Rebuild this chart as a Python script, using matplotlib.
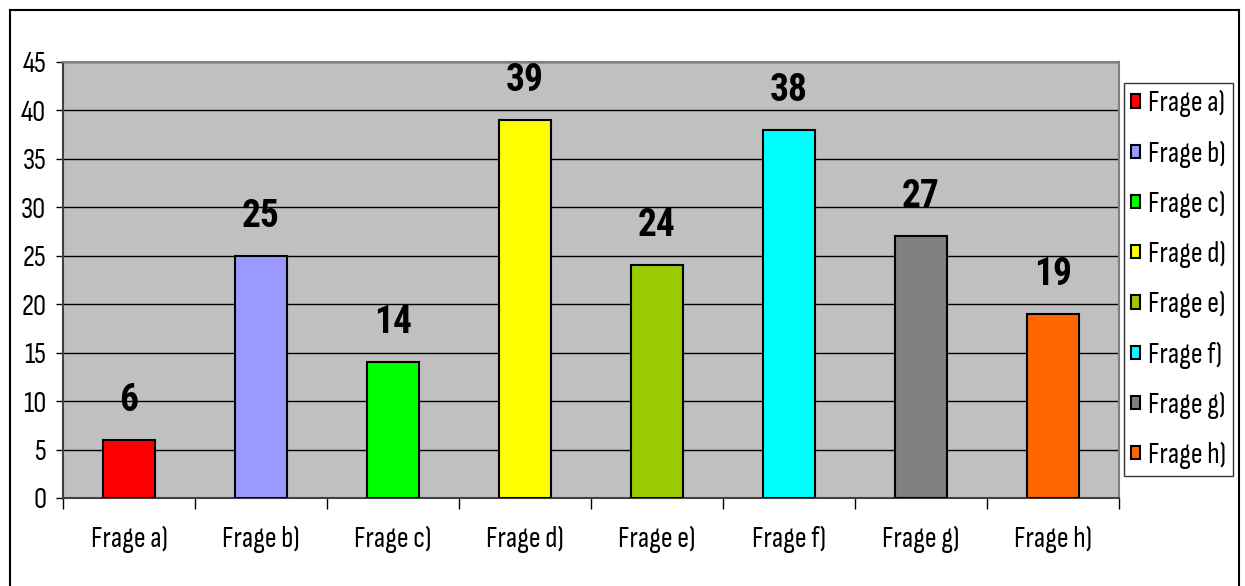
import matplotlib
matplotlib.use("Agg")
import matplotlib.pyplot as plt
from matplotlib.lines import Line2D
import numpy as np

plt.rcParams['font.family'] = ['Sofia Sans Condensed', 'Archivo Narrow', 'DejaVu Sans']
bold_family = ['Roboto Condensed', 'Asap Condensed', 'DejaVu Sans']

#... data
categories = ['Frage a)', 'Frage b)', 'Frage c)', 'Frage d)',
              'Frage e)', 'Frage f)', 'Frage g)', 'Frage h)']
values = [6, 25, 14, 39, 24, 38, 27, 19]
colors = ['#FF0000', '#9999FF', '#00FF00', '#FFFF00',
          '#99CC00', '#00FFFF', '#808080', '#FF6600']
yticks = [0, 5, 10, 15, 20, 25, 30, 35, 40, 45]

#... figure and plot area
fig = plt.figure(figsize=(12.45, 5.86), dpi=100)
ax = fig.add_axes([63/1245., 1-498/586., (1119-63)/1245., (498-62)/586.])
ax.set_facecolor('#C0C0C0')

x = np.arange(len(categories))
bars = ax.bar(x, values, width=0.4, color=colors, edgecolor='black',
              linewidth=1.5, zorder=3)

for xi, v in zip(x, values):
    ax.annotate(str(v), (xi, v), xytext=(0, 21), textcoords='offset points',
                ha='center', va='baseline', fontsize=27, fontweight='bold',
                family=bold_family, zorder=4, annotation_clip=False)

ax.set_xlim(-0.5, len(categories)-0.5)
ax.set_ylim(0, 45)
ax.set_yticks(yticks)
ax.set_yticklabels([str(t) for t in yticks], fontsize=21)
ax.yaxis.grid(True, color='black', linewidth=1)
ax.set_axisbelow(True)
ax.tick_params(axis='y', length=5, width=1, pad=7)

#... category labels at centers, tick marks at the boundaries
ax.set_xticks(x)
ax.set_xticklabels(categories, fontsize=21)
ax.tick_params(axis='x', which='major', length=0, pad=20)
ax.set_xticks(np.arange(len(categories)+1)-0.5, minor=True)
ax.tick_params(axis='x', which='minor', length=8, width=1)

ax.spines['left'].set_color('#404040')
ax.spines['bottom'].set_color('#404040')
ax.spines['top'].set_color('#808080')
ax.spines['right'].set_color('#808080')
for s in ax.spines.values():
    s.set_linewidth(1.5)

#... legend
handles = [plt.Rectangle((0, 0), 1, 1, facecolor=c, edgecolor='black', linewidth=1.5)
           for c in colors]
leg = fig.legend(handles, categories, loc='upper right',
                 bbox_to_anchor=(1233/1245., 1-83/586.), fontsize=21,
                 frameon=True, fancybox=False, handlelength=0.32, handleheight=0.32,
                 handletextpad=0.25, labelspacing=0.79, borderpad=0.25,
                 borderaxespad=0)
leg.get_frame().set_edgecolor('black')
leg.get_frame().set_linewidth(1)

#... outer chart border
fig.add_artist(Line2D([10/1245., 10/1245.], [0, 1-10/586.], color='black', lw=1.5))
fig.add_artist(Line2D([10/1245., 1239/1245.], [1-10/586., 1-10/586.], color='black', lw=1.5))
fig.add_artist(Line2D([1239/1245., 1239/1245.], [0, 1-10/586.], color='black', lw=1.5))

fig.savefig('out.png', dpi=100)
